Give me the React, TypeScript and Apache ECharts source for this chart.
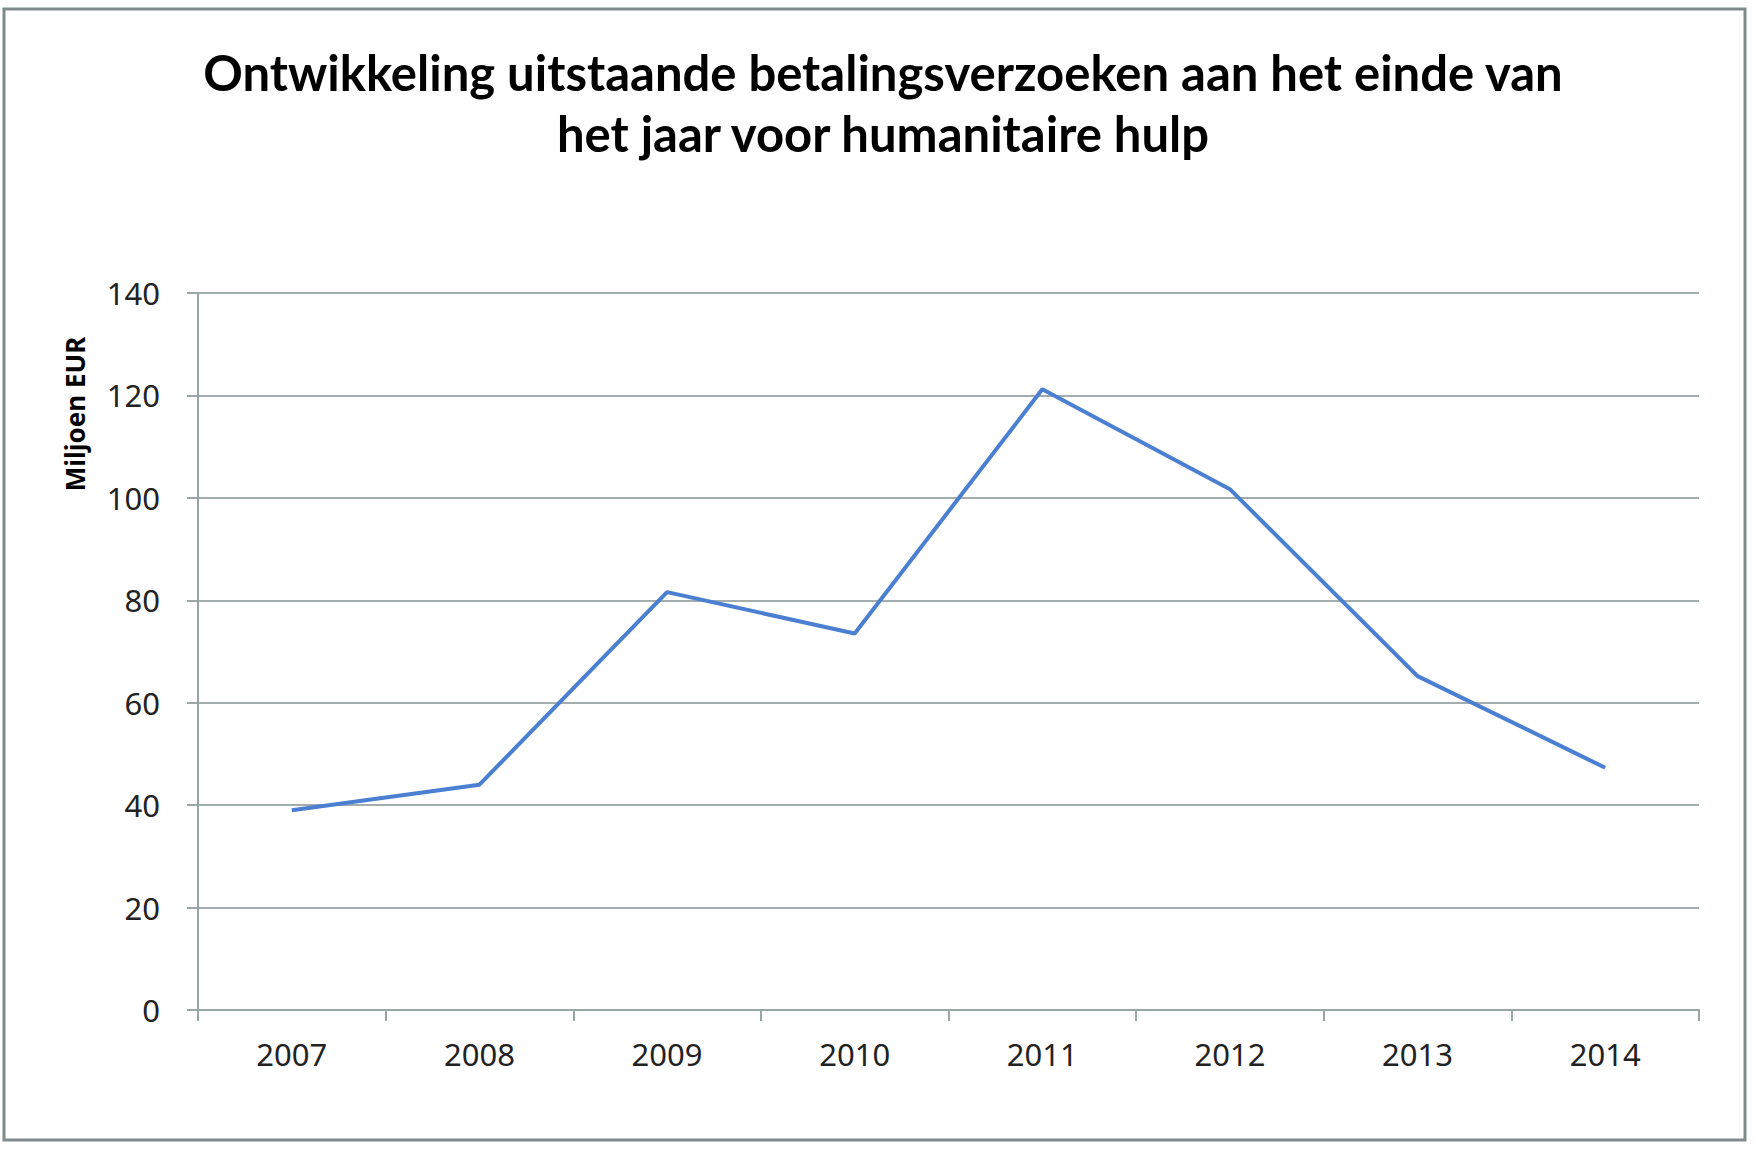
import React, { useEffect, useRef } from "react";
import * as echarts from "echarts";

const years = ["2007", "2008", "2009", "2010", "2011", "2012", "2013", "2014"];
const values = [39, 44, 81.6, 73.5, 121.2, 101.7, 65.2, 47.3];
const titleText = "Ontwikkeling uitstaande betalingsverzoeken aan het einde van\nhet jaar voor humanitaire hulp";
const yName = "Miljoen EUR";

export default function App() {
  const ref = useRef<HTMLDivElement>(null);
  useEffect(() => {
    const chart = echarts.init(ref.current!, null, { renderer: "svg" });
    chart.setOption({
      animation: false,
      backgroundColor: "#ffffff",
      title: {
        text: titleText,
        left: 878,
        top: 36,
        textAlign: "center",
        textStyle: {
          fontFamily: "Lato",
          fontWeight: "bold",
          fontSize: 49,
          lineHeight: 61,
          color: "#000000",
        },
      },
      grid: { left: 198, right: 57, top: 293, bottom: 140 },
      xAxis: {
        type: "category",
        data: years,
        boundaryGap: true,
        axisLine: { show: true, lineStyle: { color: "#9aa5a5", width: 2 } },
        axisTick: { show: true, length: 11, interval: 0, lineStyle: { color: "#9aa5a5", width: 2 } },
        axisLabel: { margin: 28, fontFamily: "Noto Sans", fontSize: 31, color: "#222" },
        splitLine: { show: false },
      },
      yAxis: {
        type: "value",
        min: 0,
        max: 140,
        interval: 20,
        axisLine: { show: true, lineStyle: { color: "#9aa5a5", width: 2 } },
        axisTick: { show: true, length: 11, lineStyle: { color: "#9aa5a5", width: 2 } },
        axisLabel: { margin: 38, fontFamily: "Noto Sans", fontSize: 31, color: "#222" },
        splitLine: { show: true, lineStyle: { color: "#a3adad", width: 2 } },
      },
      series: [
        {
          type: "line",
          data: values,
          symbol: "none",
          lineStyle: { color: "#4a7fd2", width: 4 },
          itemStyle: { color: "#4a7fd2" },
        },
      ],
      graphic: [
        {
          type: "rect",
          shape: { x: 4, y: 9, width: 1741, height: 1131 },
          style: { fill: "none", stroke: "#7f8b8b", lineWidth: 3 },
          silent: true,
        },
        {
          type: "text",
          x: 75,
          y: 414,
          rotation: Math.PI / 2,
          style: {
            text: yName,
            fontFamily: "Noto Sans",
            fontWeight: "bold",
            fontSize: 26,
            fill: "#000",
            textAlign: "center",
            textVerticalAlign: "middle",
          },
        },
      ],
    });
    return () => chart.dispose();
  }, []);
  return (
    <div
      ref={ref}
      style={{ position: "fixed", left: 0, top: 0, width: 1756, height: 1150 }}
    />
  );
}
